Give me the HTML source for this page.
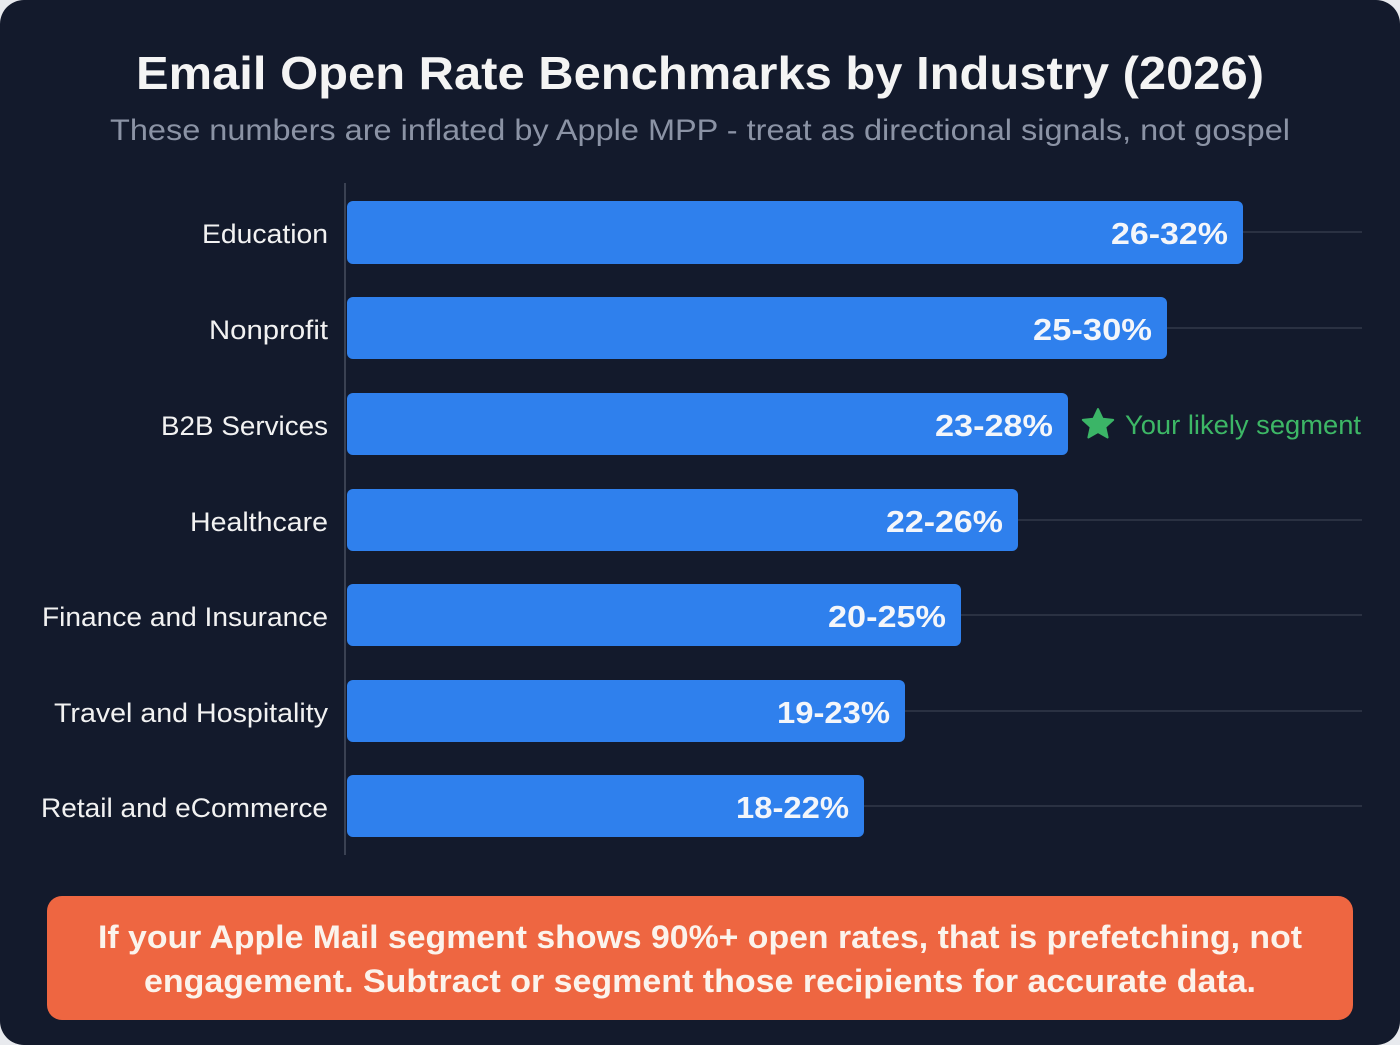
<!DOCTYPE html>
<html><head><meta charset="utf-8"><style>
html,body{margin:0;padding:0;background:#e8eaee;}
svg{display:block;}
text{font-family:"Liberation Sans",sans-serif;}
</style></head><body>
<svg width="1400" height="1045" viewBox="0 0 1400 1045">
<rect x="0" y="0" width="1400" height="1045" rx="24" fill="#131a2c"/>
<text x="700" y="89" text-anchor="middle" font-size="46" font-weight="bold" fill="#f4f4f4" textLength="1128" lengthAdjust="spacingAndGlyphs">Email Open Rate Benchmarks by Industry (2026)</text>
<text x="700" y="140" text-anchor="middle" font-size="30" fill="#8b93a5" textLength="1180" lengthAdjust="spacingAndGlyphs">These numbers are inflated by Apple MPP - treat as directional signals, not gospel</text>
<g stroke="#2a3142" stroke-width="2">
<line x1="1243" y1="232" x2="1362" y2="232"/>
<line x1="1167" y1="328" x2="1362" y2="328"/>
<line x1="1018" y1="520" x2="1362" y2="520"/>
<line x1="961" y1="615" x2="1362" y2="615"/>
<line x1="905" y1="711" x2="1362" y2="711"/>
<line x1="864" y1="806" x2="1362" y2="806"/>
</g>
<line x1="345" y1="183" x2="345" y2="855" stroke="#3a4152" stroke-width="2"/>
<g fill="#2f80ed">
<rect x="347" y="201" width="896" height="63" rx="6"/>
<rect x="347" y="297" width="820" height="62" rx="6"/>
<rect x="347" y="393" width="721" height="62" rx="6"/>
<rect x="347" y="489" width="671" height="62" rx="6"/>
<rect x="347" y="584" width="614" height="62" rx="6"/>
<rect x="347" y="680" width="558" height="62" rx="6"/>
<rect x="347" y="775" width="517" height="62" rx="6"/>
</g>
<g font-size="27" fill="#f2f2f2" text-anchor="end">
<text x="328" y="243" textLength="126" lengthAdjust="spacingAndGlyphs">Education</text>
<text x="328" y="339" textLength="119" lengthAdjust="spacingAndGlyphs">Nonprofit</text>
<text x="328" y="435" textLength="167" lengthAdjust="spacingAndGlyphs">B2B Services</text>
<text x="328" y="531" textLength="138" lengthAdjust="spacingAndGlyphs">Healthcare</text>
<text x="328" y="626" textLength="286" lengthAdjust="spacingAndGlyphs">Finance and Insurance</text>
<text x="328" y="722" textLength="274" lengthAdjust="spacingAndGlyphs">Travel and Hospitality</text>
<text x="328" y="817" textLength="287" lengthAdjust="spacingAndGlyphs">Retail and eCommerce</text>
</g>
<g font-size="31" font-weight="bold" fill="#f4f6fa" text-anchor="end">
<text x="1228" y="244" textLength="117" lengthAdjust="spacingAndGlyphs">26-32%</text>
<text x="1152" y="340" textLength="119" lengthAdjust="spacingAndGlyphs">25-30%</text>
<text x="1053" y="436" textLength="118" lengthAdjust="spacingAndGlyphs">23-28%</text>
<text x="1003" y="532" textLength="117" lengthAdjust="spacingAndGlyphs">22-26%</text>
<text x="946" y="627" textLength="118" lengthAdjust="spacingAndGlyphs">20-25%</text>
<text x="890" y="723" textLength="113" lengthAdjust="spacingAndGlyphs">19-23%</text>
<text x="849" y="818" textLength="113" lengthAdjust="spacingAndGlyphs">18-22%</text>
</g>
<polygon points="1098,409 1102.6,418.8 1113.2,419.9 1105.3,427 1107.6,437.5 1098,432 1088.4,437.5 1090.7,427 1082.8,419.9 1093.4,418.8" fill="#3bb567" stroke="#3bb567" stroke-width="2" stroke-linejoin="round"/>
<text x="1125" y="434" font-size="27" fill="#3db766" textLength="236" lengthAdjust="spacingAndGlyphs">Your likely segment</text>
<rect x="47" y="896" width="1306" height="124" rx="15" fill="#ee6641"/>
<g font-size="32" font-weight="bold" fill="#fbf3ec" text-anchor="middle">
<text x="700" y="948" textLength="1204" lengthAdjust="spacingAndGlyphs">If your Apple Mail segment shows 90%+ open rates, that is prefetching, not</text>
<text x="700" y="992" textLength="1112" lengthAdjust="spacingAndGlyphs">engagement. Subtract or segment those recipients for accurate data.</text>
</g>
</svg>
</body></html>
